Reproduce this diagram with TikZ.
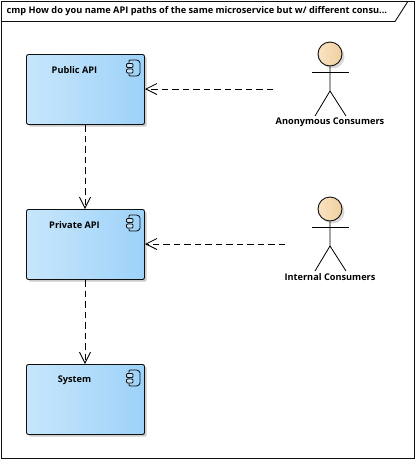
\documentclass[tikz,border=0pt]{standalone}
\usepackage{fontspec}
\setmainfont{Open Sans}
\usetikzlibrary{arrows.meta,positioning}
\definecolor{lineblk}{HTML}{101010}
\definecolor{boxl}{HTML}{C8E6FB}
\definecolor{boxr}{HTML}{9DD2F9}
\definecolor{headl}{HTML}{FBE3C2}
\definecolor{headr}{HTML}{EFCF9F}
\tikzset{
  comp/.style={draw=lineblk,line width=0.9pt,rounded corners=2pt,left color=boxl,right color=boxr,minimum width=118pt,minimum height=70pt,inner sep=0pt,outer sep=0.5pt,anchor=north west},
  shadowbox/.style={fill=black!20,rounded corners=2pt,minimum width=118pt,minimum height=70pt,inner sep=0pt,anchor=north west,draw=none},
  shadowhead/.style={circle,fill=black!15,minimum size=24pt,inner sep=0pt,draw=none},
  lab/.style={font=\fontsize{9.2}{11}\selectfont\bfseries,text=black,inner sep=0pt},
  dep/.style={draw=black,line width=0.8pt,dash pattern=on 6.5pt off 4pt,-{Straight Barb[length=11pt,width=11pt,line width=0.8pt]}},
  stick/.style={draw=black,line width=0.8pt},
  head/.style={circle,draw=lineblk,line width=0.9pt,left color=headl,right color=headr,minimum size=24pt,inner sep=0pt},
  icn/.style={draw=lineblk,line width=0.8pt,rounded corners=1pt}
}
\begin{document}
\begin{tikzpicture}[x=1pt,y=-1pt]
\useasboundingbox (0,0) rectangle (415,459);
\fill[white] (0,0) rectangle (415,459);
% frame
\draw[lineblk,line width=1pt] (1,1.5) -- (414,1.5) -- (414,458) -- (1,458) -- cycle;
\draw[lineblk,line width=0.9pt] (1,21.5) -- (395,21.5) -- (407.5,2);
\node[lab,anchor=west] (title) at (6.5,11) {cmp How do you name API paths of the same microservice but w/ different consu...};
% boxes
\foreach \x/\y in {26/54,26/209,26/364} \node[shadowbox] at (\x+2.5,\y+2.5) {};
\node[comp] (pub) at (26,54) {};
\node[comp] (prv) at (26,209) {};
\node[comp] (sys) at (26,364) {};
\node[lab] (publ) at (74.5,70) {Public API};
\node[lab] (prvl) at (74.5,225) {Private API};
\node[lab] (sysl) at (74.5,380) {System};
\foreach \y in {54,209,364}{
  \draw[icn] (129,\y+6) -- (137.5,\y+6) -- (140,\y+8) -- (140,\y+20) -- (137.5,\y+22) -- (129,\y+22) -- cycle;
  \draw[icn,fill=boxl] (126.5,\y+9.5) rectangle (133,\y+13.5);
  \draw[icn,fill=boxl] (126.5,\y+15) rectangle (133,\y+19);
}
% actor 1
\node[shadowhead] at (332.5,56.5) {};
\node[head] (h1) at (330,54) {};
\draw[stick] (312,72) -- (349,72);
\draw[stick] (h1.south) -- (330,91) -- (315,116);
\draw[stick] (330,91) -- (346,116);
\node[lab] (a1) at (330,122) {Anonymous Consumers};
\coordinate (c1) at (273,89);
% actor 2
\node[shadowhead] at (332.5,211.5) {};
\node[head] (h2) at (330,209) {};
\draw[stick] (312,227) -- (349,227);
\draw[stick] (h2.south) -- (330,246) -- (315,271);
\draw[stick] (330,246) -- (346,271);
\node[lab] (a2) at (330,277) {Internal Consumers};
\coordinate (c2) at (285,244);
% connectors
\draw[dep] (c1) -- (pub.east |- c1);
\draw[dep] (c2) -- (prv.east |- c2);
\draw[dep] (pub.south -| 85,0) -- (prv.north -| 85,0);
\draw[dep] (prv.south -| 85,0) -- (sys.north -| 85,0);
\end{tikzpicture}
\end{document}
